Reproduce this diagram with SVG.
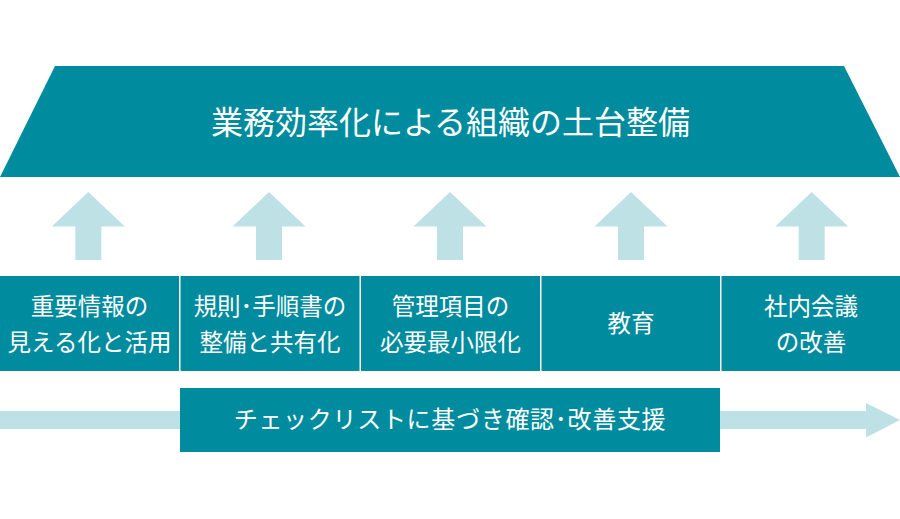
<svg xmlns="http://www.w3.org/2000/svg" width="900" height="519" viewBox="0 0 900 519">
<style>
.teal{fill:#008C9E}
.light{fill:#BEE1E6}
.t{fill:#FFFFFF;font-family:"Noto Sans CJK JP","Noto Sans",sans-serif;text-anchor:middle}
.big{font-size:32px}
.mid{font-size:23.5px}
.low{font-size:24px;letter-spacing:0.7px}
</style>
<defs>
<path id="up" d="M0,0 L36.5,34.5 L13,34.5 L13,68 L-13,68 L-13,34.5 L-36.5,34.5 Z"/>
</defs>
<rect width="900" height="519" fill="#FFFFFF"/>
<g id="top">
<polygon class="teal" points="55,66 844,66 900,177 0,177"/>
<text class="t big" x="450.5" y="134">業務効率化による組織の土台整備</text>
</g>
<g id="connectors">
<use href="#up" class="light" x="88.3" y="192"/>
<use href="#up" class="light" x="269" y="192"/>
<use href="#up" class="light" x="450" y="192"/>
<use href="#up" class="light" x="631" y="192"/>
<use href="#up" class="light" x="811.7" y="192"/>
<polygon class="light" points="0,411 866,411 866,403 900,420 866,437.5 866,429 0,429"/>
</g>
<g id="box1">
<rect class="teal" x="0" y="276" width="179" height="95"/>
<text class="t mid" x="89.5" y="315">重要情報の</text>
<text class="t mid" x="89.5" y="351">見える化と活用</text>
</g>
<g id="box2">
<rect class="teal" x="180.5" y="276" width="179" height="95"/>
<text class="t mid" x="270" y="315">規則･手順書の</text>
<text class="t mid" x="270" y="351">整備と共有化</text>
</g>
<g id="box3">
<rect class="teal" x="361" y="276" width="179" height="95"/>
<text class="t mid" x="450.5" y="315">管理項目の</text>
<text class="t mid" x="450.5" y="351">必要最小限化</text>
</g>
<g id="box4">
<rect class="teal" x="541.5" y="276" width="178.5" height="95"/>
<text class="t mid" x="631" y="332">教育</text>
</g>
<g id="box5">
<rect class="teal" x="721.5" y="276" width="178.5" height="95"/>
<text class="t mid" x="811" y="315">社内会議</text>
<text class="t mid" x="811" y="351">の改善</text>
</g>
<g id="bottom">
<rect class="teal" x="180" y="388" width="540" height="64"/>
<text class="t low" x="450" y="428">チェックリストに基づき確認･改善支援</text>
</g>
</svg>
